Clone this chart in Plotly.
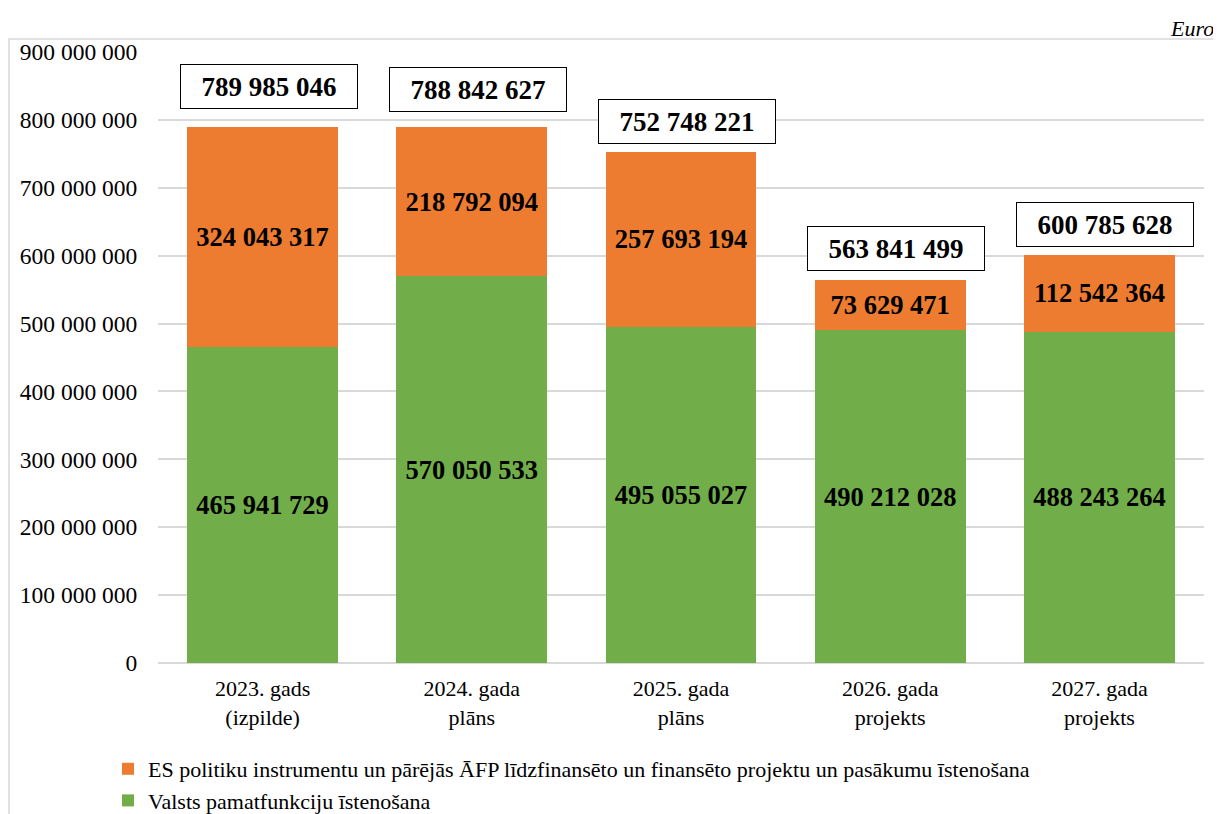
import plotly.graph_objects as go

categories = ["2023. gads<br>(izpilde)", "2024. gada<br>plāns", "2025. gada<br>plāns",
              "2026. gada<br>projekts", "2027. gada<br>projekts"]
valsts = [465941729, 570050533, 495055027, 490212028, 488243264]
es_fin = [324043317, 218792094, 257693194, 73629471, 112542364]
totals = [789985046, 788842627, 752748221, 563841499, 600785628]
tick_vals = [0, 100000000, 200000000, 300000000, 400000000, 500000000,
             600000000, 700000000, 800000000, 900000000]

name_valsts = "Valsts pamatfunkciju īstenošana"
name_es = "ES politiku instrumentu un pārējās ĀFP līdzfinansēto un finansēto projektu un pasākumu īstenošana"

# label box offsets above bar tops (px) – styling
box_shift = [40, 38, 30, 32, 31]

FONT = "Liberation Serif"
GREEN = "#71AE49"
ORANGE = "#ED7C30"

OFF = 8  # page body margin
FIG_W, FIG_H = 1221 - OFF, 814 - OFF


def fmt(v):
    return f"{v:,}".replace(",", " ")


fig = go.Figure()
fig.add_trace(go.Bar(
    x=categories, y=valsts, name=name_valsts,
    marker=dict(color=GREEN, line=dict(width=0)),
    text=[fmt(v) for v in valsts], textposition="inside",
    insidetextanchor="middle", constraintext="none",
    textfont=dict(family=FONT, size=26.5, color="black", weight="bold"),
    hoverinfo="skip",
))
fig.add_trace(go.Bar(
    x=categories, y=es_fin, name=name_es,
    marker=dict(color=ORANGE, line=dict(width=0)),
    text=[fmt(v) for v in es_fin], textposition="inside",
    insidetextanchor="middle", constraintext="none",
    textfont=dict(family=FONT, size=26.5, color="black", weight="bold"),
    hoverinfo="skip",
))

annotations = []
for c, t, s in zip(categories, totals, box_shift):
    annotations.append(dict(
        x=c, y=t, xref="x", yref="y", text=f"<b>{fmt(t)}</b>",
        showarrow=False, yanchor="middle", yshift=s, xshift=6,
        font=dict(family=FONT, size=27, color="black"),
        bgcolor="white", bordercolor="black", borderwidth=1,
        borderpad=4, width=168, height=35,
    ))

# plot area geometry (page pixels -> figure pixels)
PL, PR, PT, PB = 158, 1204, 52, 663
L, T = PL - OFF, PT - OFF
R = FIG_W - (PR - OFF)
B = FIG_H - (PB - OFF)
W, H = PR - PL, PB - PT


def px(xp):
    return (xp - PL) / W


def py(yp):
    return (PB - yp) / H


annotations.append(dict(
    x=px(1216), y=py(28), xref="paper", yref="paper",
    text="<i>Euro</i>", showarrow=False, xanchor="right", yanchor="middle",
    font=dict(family=FONT, size=22, color="black"),
))

fig.update_layout(
    barmode="stack",
    bargap=0.28,
    width=FIG_W, height=FIG_H,
    margin=dict(l=L, r=R, t=T, b=B, autoexpand=False),
    paper_bgcolor="white", plot_bgcolor="white",
    separators=", ",
    font=dict(family=FONT, size=22, color="black"),
    showlegend=True,
    legend=dict(
        orientation="v", traceorder="reversed",
        x=px(108), y=py(748), xanchor="left", yanchor="top",
        font=dict(family=FONT, size=22, color="black"),
        itemwidth=30, tracegroupgap=0, bgcolor="rgba(0,0,0,0)",
    ),
    xaxis=dict(
        showgrid=False, showline=False, ticks="",
        ticklabelstandoff=10,
        tickfont=dict(family=FONT, size=22, color="black"),
    ),
    yaxis=dict(
        range=[0, 900000000], tickvals=tick_vals, tickformat=",d",
        showgrid=True, gridcolor="#D9D9D9", gridwidth=1.5,
        zeroline=True, zerolinecolor="#D9D9D9", zerolinewidth=1.5,
        showline=False, ticks="outside", ticklen=15, tickcolor="rgba(0,0,0,0)",
        tickfont=dict(family=FONT, size=23.5, color="black"),
    ),
    annotations=annotations,
    shapes=[dict(
        type="rect", xref="paper", yref="paper",
        x0=px(9), x1=px(1217),
        y0=py(840), y1=py(39),
        line=dict(color="#D9D9D9", width=1.5), fillcolor="rgba(0,0,0,0)",
        layer="below",
    )],
)

fig.write_html("out.html")
